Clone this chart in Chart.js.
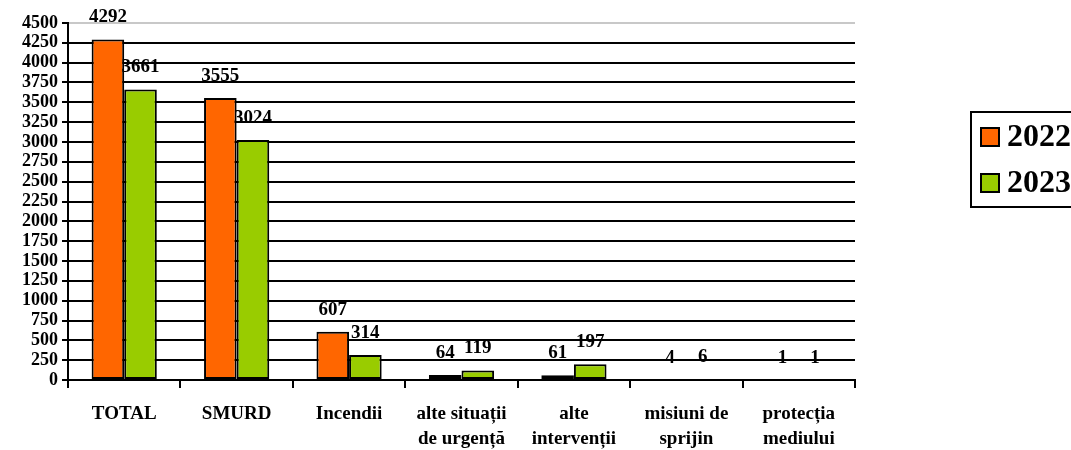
<!DOCTYPE html>
<html>
<head>
<meta charset="utf-8">
<script src="https://cdn.jsdelivr.net/npm/chart.js@4/dist/chart.umd.min.js"></script>
<style>
  html, body { margin: 0; padding: 0; background: #fff; }
  #wrap { width: 1071px; height: 450px; position: relative; }
</style>
</head>
<body>
<div id="wrap"><canvas id="chart"></canvas></div>
<script>
// Data
const categories = [
    'TOTAL',
    'SMURD',
    'Incendii',
    ['alte situații', 'de urgență'],
    ['alte', 'intervenții'],
    ['misiuni de', 'sprijin'],
    ['protecția', 'mediului']
];
const values2022 = [4292, 3555, 607, 64, 61, 4, 1];
const values2023 = [3661, 3024, 314, 119, 197, 6, 1];
const seriesLabels = ['2022', '2023'];

const FONT = '"Liberation Serif", "Times New Roman", serif';

// value labels above each bar
const valueLabels = {
    id: 'valueLabels',
    afterDatasetsDraw(chart) {
        const ctx = chart.ctx;
        ctx.save();
        ctx.font = 'bold 19px ' + FONT;
        ctx.fillStyle = '#000';
        ctx.textAlign = 'center';
        ctx.textBaseline = 'middle';
        chart.data.datasets.forEach((ds, di) => {
            const meta = chart.getDatasetMeta(di);
            meta.data.forEach((bar, i) => {
                ctx.fillText(ds.data[i], bar.x, bar.y - 22);
            });
        });
        ctx.restore();
    }
};

// boxed legend on the right, like the original
const boxLegend = {
    id: 'boxLegend',
    afterDraw(chart) {
        const ctx = chart.ctx;
        ctx.save();
        ctx.lineWidth = 2;
        ctx.strokeStyle = '#000';
        ctx.strokeRect(971, 112, 120, 95);
        ctx.font = 'bold 32px ' + FONT;
        ctx.textBaseline = 'middle';
        ctx.textAlign = 'left';
        chart.data.datasets.forEach((ds, i) => {
            const y = 137 + i * 46;
            ctx.fillStyle = ds.backgroundColor;
            ctx.fillRect(981, y - 9, 18, 18);
            ctx.strokeRect(981, y - 9, 18, 18);
            ctx.fillStyle = '#000';
            ctx.fillText(ds.label, 1007, y + 1);
        });
        ctx.restore();
    }
};

new Chart(document.getElementById('chart'), {
    type: 'bar',
    data: {
        labels: categories,
        datasets: [
            {
                label: seriesLabels[0],
                data: values2022,
                backgroundColor: '#FF6600',
                borderColor: '#000',
                borderWidth: 2,
                borderSkipped: false
            },
            {
                label: seriesLabels[1],
                data: values2023,
                backgroundColor: '#99CC00',
                borderColor: '#000',
                borderWidth: 2,
                borderSkipped: false
            }
        ]
    },
    options: {
        responsive: true,
        maintainAspectRatio: false,
        animation: false,
        categoryPercentage: 0.58,
        barPercentage: 1.0,
        layout: { padding: { top: 23, right: 216, left: 0, bottom: 0 } },
        plugins: {
            legend: { display: false },
            tooltip: { enabled: false }
        },
        scales: {
            x: {
                grid: {
                    offset: true,
                    drawOnChartArea: false,
                    color: '#000',
                    lineWidth: 2,
                    tickLength: 8
                },
                border: { color: '#000', width: 2 },
                ticks: {
                    color: '#000',
                    font: { family: FONT, size: 19, weight: 'bold', lineHeight: 1.3 },
                    padding: 14,
                    maxRotation: 0,
                    autoSkip: false
                },
                afterFit(scale) { scale.height = 70; }
            },
            y: {
                min: 0,
                max: 4500,
                grid: {
                    color: c => (c.tick && c.tick.value === 4500) ? '#c8c8c8' : '#000',
                    tickColor: '#000',
                    lineWidth: 2,
                    tickLength: 6
                },
                border: { color: '#000', width: 2 },
                ticks: {
                    stepSize: 250,
                    autoSkip: false,
                    color: '#000',
                    font: { family: FONT, size: 18, weight: 'bold' },
                    padding: 4,
                    callback: v => String(v)
                },
                afterFit(scale) { scale.width = 68; }
            }
        }
    },
    plugins: [valueLabels, boxLegend]
});
</script>
</body>
</html>
